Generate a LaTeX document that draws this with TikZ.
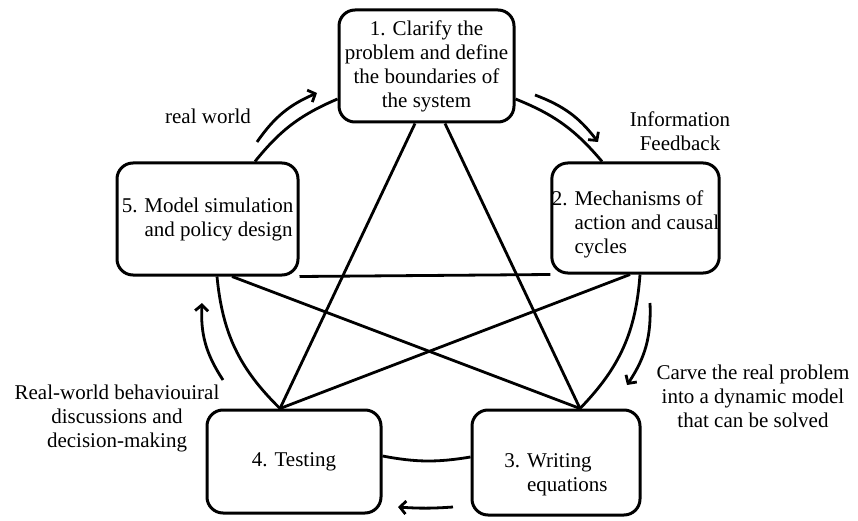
\documentclass[tikz,border=0pt]{standalone}
\usepackage{fontspec}
\setmainfont{Liberation Serif}
\usetikzlibrary{positioning,arrows.meta,calc}

\begin{document}
\begin{tikzpicture}[x=1pt, y=1pt, >={Straight Barb[length=6pt,width=13pt]},
    font=\fontsize{21}{24}\selectfont,
    stage/.style={draw, line width=3pt, rounded corners=16pt, inner sep=2pt},
    note/.style={align=center},
    ring/.style={line width=2.8pt},
    cue/.style={->, line width=2.8pt}]
  \useasboundingbox (0,0) rectangle (858,520);

  % the five stages
  \node[stage, minimum width=175pt, minimum height=112pt, align=center] (s1) at (426.5,454)
    {1. Clarify the\\problem and define\\the boundaries of\\the system};
  \node[stage, minimum width=165pt, minimum height=110pt, align=left, inner xsep=0pt] (s2) at (635.5,302)
    {\rule{0pt}{27pt}2. Mechanisms of\\\hphantom{2. }action and causal\\\hphantom{2. }cycles};
  \node[stage, minimum width=168pt, minimum height=105pt, align=left] (s3) at (556,57.5)
    {\rule{0pt}{38pt}3. Writing\\\hphantom{3. }equations};
  \node[stage, minimum width=174pt, minimum height=103pt, align=center] (s4) at (294,58.5)
    {4. Testing};
  \node[stage, minimum width=181pt, minimum height=112pt, align=left] (s5) at (207.5,301)
    {5. Model simulation\\\hphantom{5. }and policy design};

  \coordinate (t3) at ([xshift=24pt]s3.north);
  \coordinate (t4) at ([xshift=-14pt]s4.north);

  % outer ring
  \path[ring]
    ([xshift=47.5pt]s5.north) edge[bend left=14] ([yshift=-33pt]s1.west)
    ([yshift=-33pt]s1.east) edge[bend left=14] ([xshift=-33.5pt]s2.north)
    ([xshift=4.5pt]s2.south) edge[bend left=20] (t3)
    ([yshift=5.5pt]s3.west) edge[bend left=10] ([yshift=5.5pt]s4.east)
    (t4) edge[bend left=20] ([xshift=9.5pt]s5.south);

  % star
  \path[ring]
    ([xshift=-11.5pt]s1.south) edge (t4)
    ([xshift=18.5pt]s1.south) edge (t3)
    (s5.south east) edge (s2.south west)
    ([xshift=24.5pt]s5.south) edge (t3)
    ([xshift=-5.5pt]s2.south) edge (t4);

  % flow arrows
  \coordinate (a1) at (257,378); \coordinate (b1) at (317,427);
  \coordinate (a2) at (535,425); \coordinate (b2) at (598,378);
  \coordinate (a3) at (650,217); \coordinate (b3) at (627,135);
  \coordinate (a4) at (453,13);  \coordinate (b4) at (398,13);
  \coordinate (a5) at (223,140); \coordinate (b5) at (202,217);
  \path[cue]
    (a1) edge[bend left=16] (b1)
    (a2) edge[bend left=16] (b2)
    (a3) edge[bend left=18] (b3)
    (a4) edge[bend left=4] (b4)
    (a5) edge[bend left=18] (b5);

  \node[note] (rw) at (208,404) {real world};
  \node[note] (fb) at (680,389) {Information\\Feedback};
  \node[note] (cv) at (753,124) {Carve the real problem\\into a dynamic model\\that can be solved};
  \node[note] (rb) at (117,102) {Real-world behaviouiral\\discussions and\\decision-making};
\end{tikzpicture}
\end{document}
